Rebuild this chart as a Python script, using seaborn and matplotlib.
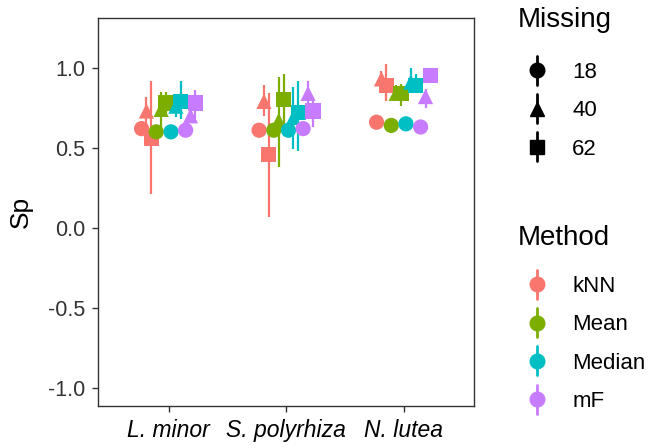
import numpy as np
import pandas as pd
import matplotlib; matplotlib.use("Agg")
import matplotlib.pyplot as plt
from matplotlib.lines import Line2D
from matplotlib.legend_handler import HandlerBase
import seaborn as sns

species = ["L. minor", "S. polyrhiza", "N. lutea"]
methods = ["kNN", "Mean", "Median", "mF"]
missing = ["18", "40", "62"]
colors = ["#F8766D", "#7CAE00", "#00BFC4", "#C77CFF"]

# per species, order: kNN 18/40/62, Mean 18/40/62, Median 18/40/62, mF 18/40/62
sp_mean = [
    [0.62, 0.73, 0.56, 0.60, 0.74, 0.78, 0.60, 0.76, 0.79, 0.61, 0.70, 0.78],
    [0.61, 0.79, 0.46, 0.61, 0.67, 0.80, 0.61, 0.69, 0.72, 0.62, 0.84, 0.73],
    [0.66, 0.93, 0.89, 0.64, 0.84, 0.84, 0.65, 0.91, 0.89, 0.63, 0.82, 0.95],
]
sp_lo = [
    [0.58, 0.64, 0.21, 0.57, 0.62, 0.70, 0.57, 0.69, 0.68, 0.58, 0.66, 0.68],
    [0.58, 0.70, 0.07, 0.58, 0.38, 0.62, 0.58, 0.49, 0.48, 0.59, 0.75, 0.63],
    [0.64, 0.88, 0.79, 0.62, 0.80, 0.76, 0.63, 0.86, 0.84, 0.61, 0.75, 0.93],
]
sp_hi = [
    [0.66, 0.82, 0.92, 0.63, 0.85, 0.85, 0.63, 0.82, 0.92, 0.64, 0.76, 0.86],
    [0.64, 0.89, 0.84, 0.64, 0.94, 0.96, 0.64, 0.88, 0.92, 0.65, 0.92, 0.82],
    [0.68, 0.98, 1.02, 0.66, 0.89, 0.90, 0.67, 1.00, 0.96, 0.65, 0.87, 0.97],
]

rows = []
for si, s in enumerate(species):
    k = 0
    for m in methods:
        for ms in missing:
            rows.append(dict(Species=s, Method=m, Missing=ms, k=k, si=si,
                             Sp=sp_mean[si][k], lo=sp_lo[si][k], hi=sp_hi[si][k]))
            k += 1
df = pd.DataFrame(rows)
DODGE = 0.5
df["x"] = df["si"] + (df["k"] - 5.5) * DODGE / 12

sns.set_theme(style="white")
plt.rcParams["font.family"] = ["Liberation Sans", "DejaVu Sans"]

fig = plt.figure(figsize=(6.51, 4.48), dpi=100)
ax = fig.add_axes([98/651, 1-406/448, 376/651, 388/448])

pal = dict(zip(methods, colors))
mk = {"18": "o", "40": "^", "62": "s"}
for i, r in df.iterrows():
    ax.vlines(r["x"], r["lo"], r["hi"], color=pal[r["Method"]], lw=1.6, zorder=2)
sns.scatterplot(data=df, x="x", y="Sp", hue="Method", style="Missing", palette=pal,
                markers=mk, hue_order=methods, style_order=missing,
                s=120, linewidth=0, ax=ax, legend=False, zorder=3)

ax.set_xlim(-0.6, 2.6)
ax.set_ylim(-1.11, 1.31)
ax.set_xticks(range(len(species)))
ax.set_xticklabels(species, fontsize=16.5, style="italic", color="black")
ax.set_yticks([-1.0, -0.5, 0.0, 0.5, 1.0])
ax.set_yticklabels(["-1.0", "-0.5", "0.0", "0.5", "1.0"], fontsize=15.5, color="#333333")
ax.set_xlabel("")
ax.set_ylabel("Sp", fontsize=19, labelpad=11, color="black")
ax.tick_params(axis="both", length=4.5, width=1, color="#333333", direction="out",
               bottom=True, left=True, pad=4.5)
for sp in ax.spines.values():
    sp.set_color("#333333"); sp.set_linewidth(1)


class PointRange(HandlerBase):
    # vertical line with a marker on top, like ggplot's pointrange key
    def create_artists(self, legend, orig, xd, yd, w, h, fontsize, trans):
        cx, cy = w / 2 - xd, h / 2 - yd
        c, m = orig.get_color(), orig.get_marker()
        bar = Line2D([cx, cx], [cy - 10.5, cy + 10.5], color=c, lw=2, transform=trans)
        dot = Line2D([cx], [cy], marker=m, markersize=10.5, color=c, ls="none",
                     transform=trans)
        return [bar, dot]


h_miss = [Line2D([], [], marker=mk[m], color="black", ls="none") for m in missing]
h_meth = [Line2D([], [], marker="o", color=c, ls="none") for c in colors]
kw = dict(frameon=False, fontsize=16, loc="upper left", labelcolor="black",
          handler_map={Line2D: PointRange()}, handlelength=1.4, handleheight=0.7,
          handletextpad=0.88, labelspacing=0.78, borderaxespad=0, borderpad=0)
fig.text(518/651, 1-20/448, "Missing", fontsize=20, va="center", ha="left", color="black")
fig.legend(h_miss, missing, bbox_to_anchor=(521.5/651, 1-62/448), **kw)
fig.text(518/651, 1-238/448, "Method", fontsize=20, va="center", ha="left", color="black")
fig.legend(h_meth, methods, bbox_to_anchor=(521.5/651, 1-276/448), **kw)

fig.savefig("out.png", dpi=100)
